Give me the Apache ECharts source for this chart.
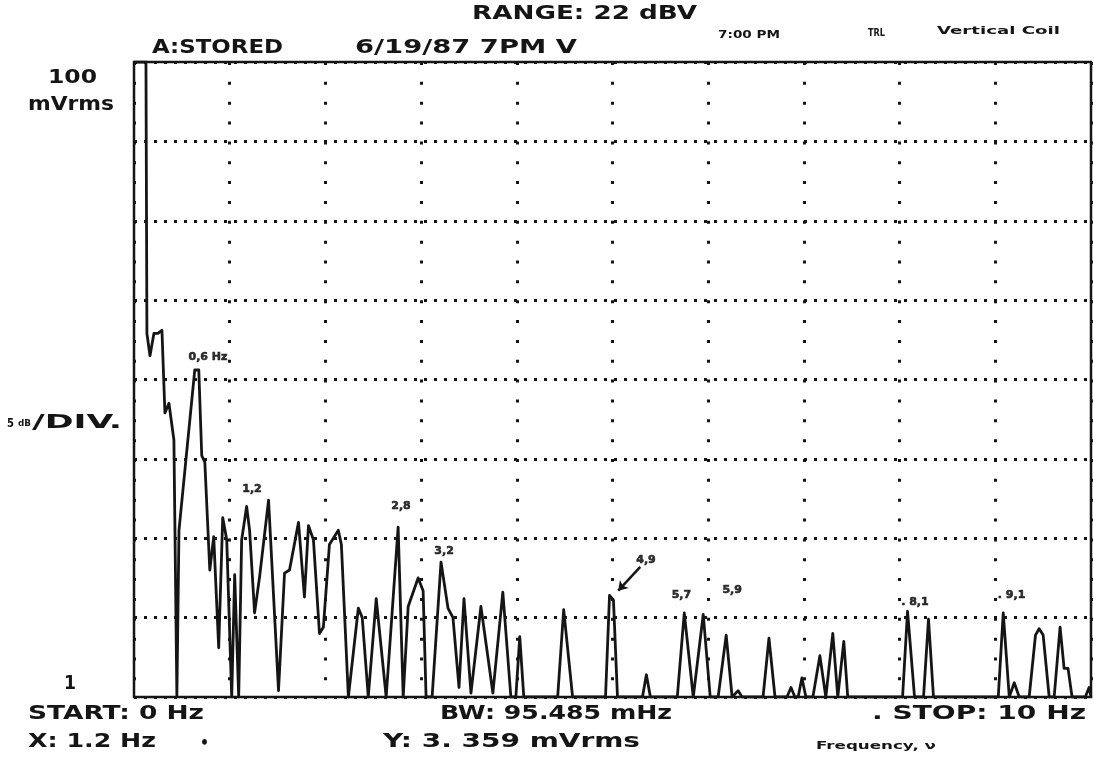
<!DOCTYPE html>
<html>
<head>
<meta charset="utf-8">
<script src="https://cdn.jsdelivr.net/npm/echarts@6/dist/echarts.min.js"></script>
<style>
html,body{margin:0;padding:0;background:#fff;}
#c{width:1094px;height:757px;}
</style>
</head>
<body>
<div id="c"></div>
<script>
// Spectrum trace: frequency (Hz) and level (dB re 1 mVrms; 0 dB = 1 mVrms, 40 dB = 100 mVrms)
const freqHz = [0, 0.125, 0.135, 0.167, 0.208, 0.25, 0.292, 0.323, 0.365, 0.417, 0.448, 0.47, 0.635, 0.677, 0.708, 0.74, 0.792, 0.833, 0.885, 0.927, 0.969, 1.021, 1.052, 1.094, 1.125, 1.177, 1.208, 1.26, 1.313, 1.406, 1.51, 1.573, 1.625, 1.719, 1.781, 1.823, 1.875, 1.938, 1.979, 2.042, 2.135, 2.167, 2.24, 2.344, 2.385, 2.448, 2.531, 2.635, 2.76, 2.813, 2.865, 2.969, 3.021, 3.052, 3.115, 3.208, 3.281, 3.333, 3.396, 3.448, 3.521, 3.625, 3.75, 3.854, 3.938, 3.99, 4.031, 4.073, 4.427, 4.49, 4.583, 4.927, 4.969, 5.01, 5.052, 5.313, 5.354, 5.396, 5.677, 5.75, 5.844, 5.948, 6.021, 6.104, 6.188, 6.25, 6.313, 6.354, 6.573, 6.635, 6.698, 6.823, 6.865, 6.906, 6.94, 6.979, 7.021, 7.094, 7.167, 7.229, 7.302, 7.354, 7.417, 7.458, 8.031, 8.083, 8.156, 8.25, 8.302, 8.354, 9.031, 9.083, 9.146, 9.198, 9.25, 9.354, 9.42, 9.458, 9.5, 9.563, 9.615, 9.677, 9.719, 9.76, 9.802, 9.94, 9.98, 10];
const levelDb = [40, 40, 22.9, 21.5, 22.9, 22.9, 23.1, 17.9, 18.5, 16.2, 0, 10.5, 20.6, 20.6, 15.2, 14.8, 8.0, 10.1, 3.1, 11.3, 9.9, 0, 7.7, 0, 9.9, 12.0, 10.5, 5.3, 7.6, 12.4, 0.4, 7.8, 8.0, 11.0, 6.3, 10.8, 9.9, 4.0, 4.4, 9.6, 10.5, 9.6, 0, 5.6, 5.0, 0, 6.2, 0, 10.7, 0, 5.7, 7.5, 6.7, 0, 0, 8.5, 5.6, 5.0, 0.6, 6.2, 0.25, 5.7, 0.25, 6.6, 0, 0, 3.8, 0, 0, 5.5, 0, 0, 6.4, 6.1, 0, 0, 1.4, 0, 0, 5.3, 0, 5.2, 0, 0, 3.9, 0, 0.4, 0, 0, 3.7, 0, 0, 0.6, 0, 0, 1.2, 0, 0, 2.6, 0, 4.0, 0, 3.5, 0, 0, 5.4, 0, 0, 4.9, 0, 0, 5.3, 0, 0.9, 0, 0, 3.9, 4.3, 3.9, 0, 0, 4.4, 1.8, 1.8, 0, 0, 0.6, 0];

// Handwritten peak annotations (text centre in data space)
const peakLabels = ['0,6 Hz', '1,2', '2,8', '3,2', '4,9', '5,7', '5,9', '. 8,1', '. 9,1'];
const peakLabelFreq = [0.773, 1.233, 2.79, 3.24, 5.35, 5.72, 6.25, 8.16, 9.17];
const peakLabelDb = [21.4, 13.1, 12.0, 9.2, 8.6, 6.4, 6.7, 6.0, 6.4];
const arrowFrom = [5.29, 8.2];
const arrowTo = [5.06, 6.7];

// Axis settings
const xMin = 0, xMax = 10, xStep = 1;
const yMinDb = 0, yMaxDb = 40, yStepDb = 5;
const yEndLabels = ['1', '100', 'mVrms'];

const chart = echarts.init(document.getElementById('c'), null, {renderer: 'canvas'});

const ink = '#151515';
const printerFamily = '"DejaVu Sans"';
const measureCtx = document.createElement('canvas').getContext('2d');
function fitText(text, left, right, cy, size, weight, family) {
  const fam = family || printerFamily;
  const w = weight || 'bold';
  measureCtx.font = w + ' ' + size + 'px ' + fam;
  const natural = measureCtx.measureText(text).width;
  return {
    type: 'text', x: left, y: cy, scaleX: (right - left) / natural, silent: true,
    style: {text: text, x: 0, y: 0, fontSize: size, fontWeight: w, fontFamily: fam,
            fill: ink, align: 'left', verticalAlign: 'middle'}
  };
}

const graphics = [
  fitText('A:STORED', 152, 283, 48, 20),
  fitText('6/19/87 7PM V', 355, 577, 48, 20),
  fitText('RANGE: 22 dBV', 472, 697, 14, 20),
  fitText('7:00 PM', 718, 780, 35, 10),
  fitText('TRL', 868, 885, 33, 10),
  fitText('Vertical Coil', 937, 1060, 31, 11),
  fitText(yEndLabels[1], 48, 97, 78, 20),
  fitText(yEndLabels[2], 28, 114, 105, 20),
  fitText(yEndLabels[0], 64, 76, 684, 20),
  fitText('5', 7, 14, 424, 12),
  fitText('dB', 18, 31, 424, 9),
  fitText('/DIV.', 32, 122, 423, 20),
  fitText('START: 0 Hz', 28, 204, 714, 20),
  fitText('X: 1.2 Hz', 28, 156, 742, 20),
  fitText('•', 200, 209, 744, 16),
  fitText('BW: 95.485 mHz', 440, 672, 714, 20),
  fitText('Y: 3. 359 mVrms', 383, 640, 742, 20),
  fitText('. STOP: 10 Hz', 872, 1086, 714, 20),
  fitText('Frequency, ν', 816, 936, 746, 10)
];

const trace = freqHz.map((f, i) => [f, levelDb[i]]);
const notes = peakLabelFreq.map((f, i) => ({value: [f, peakLabelDb[i]], name: peakLabels[i]}));

chart.setOption({
  animation: false,
  backgroundColor: '#ffffff',
  grid: {left: 134, top: 62, right: 3, bottom: 60, show: true, borderColor: ink, borderWidth: 2.5, backgroundColor: 'transparent'},
  xAxis: {
    type: 'value', min: xMin, max: xMax, interval: xStep,
    axisLine: {show: false}, axisTick: {show: false}, axisLabel: {show: false},
    splitLine: {show: true, lineStyle: {color: ink, width: 3, type: [3, 16.85], dashOffset: 0}}
  },
  yAxis: {
    type: 'value', min: yMinDb, max: yMaxDb, interval: yStepDb,
    axisLine: {show: false}, axisTick: {show: false}, axisLabel: {show: false},
    splitLine: {show: true, lineStyle: {color: ink, width: 3, type: [3, 7]}}
  },
  series: [
    {
      type: 'line', data: trace, showSymbol: false, symbol: 'none', silent: true,
      lineStyle: {color: ink, width: 2.8, join: 'round'}, z: 5
    },
    {
      type: 'scatter', data: notes, symbolSize: 0, silent: true, z: 6,
      label: {show: true, position: 'inside', formatter: p => p.name,
              fontSize: 11, fontWeight: 900, fontFamily: printerFamily, color: '#000',
              textBorderColor: '#000', textBorderWidth: 0.6},
      markLine: {
        silent: true, symbol: ['none', 'arrow'], symbolSize: 9,
        lineStyle: {color: ink, width: 2.5, type: 'solid'}, label: {show: false},
        data: [[{coord: arrowFrom}, {coord: arrowTo}]]
      }
    }
  ],
  graphic: graphics
});
</script>
</body>
</html>
